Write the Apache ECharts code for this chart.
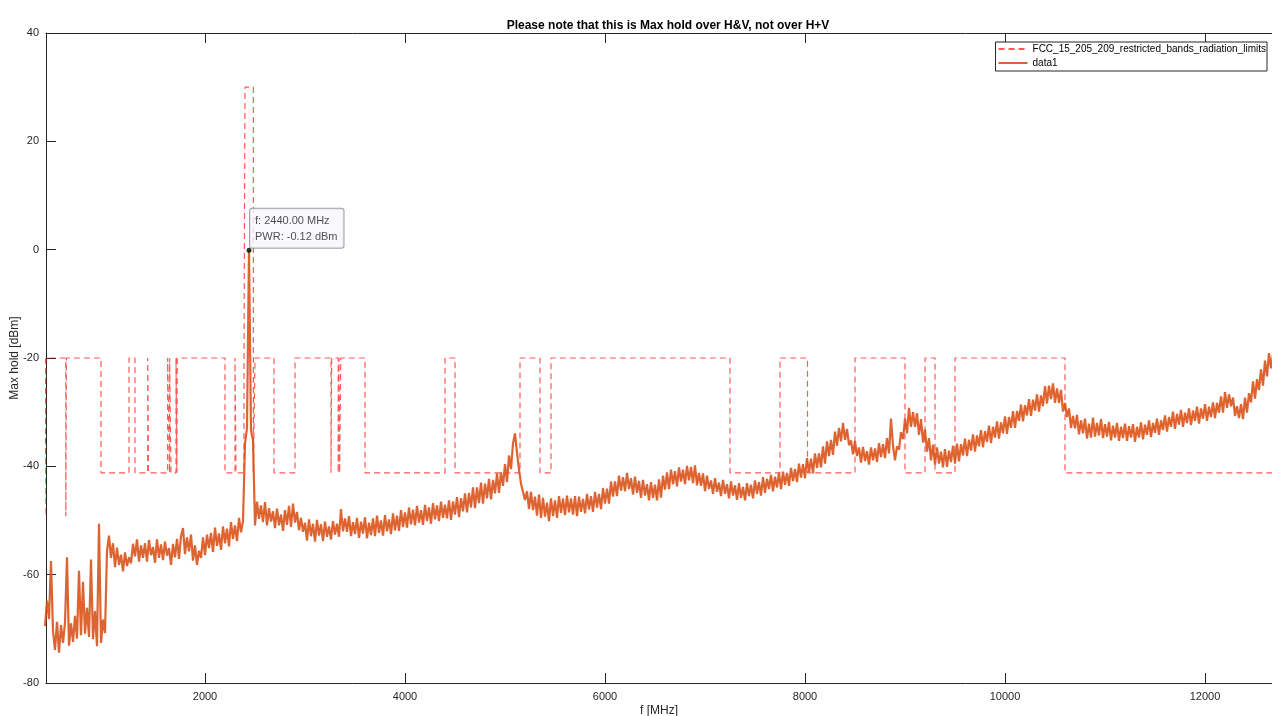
<!DOCTYPE html>
<html>
<head>
<meta charset="utf-8">
<script src="https://cdn.jsdelivr.net/npm/echarts@6/dist/echarts.min.js"></script>
<style>
  html, body { margin: 0; padding: 0; background: #ffffff; }
  #chart { width: 1272px; height: 716px; }
</style>
</head>
<body>
<div id="chart"></div>
<script>
// ---- axis ranges and tick labels ----
const freqMin = 410;
const freqMax = 12670;
const xTicks = [2000, 4000, 6000, 8000, 10000, 12000];
const yMin = -80, yMax = 40, yStep = 20;

// ---- measured max-hold trace (dBm), one sample every 20 MHz from 400 MHz ----
const traceStartMHz = 400;
const traceStepMHz = 20;
const tracePwr = [
  // 400 - 1380 MHz
  -69.5, -64.8, -68.2, -57.5, -70.4, -73.9, -68.7, -74.4, -69.3, -72.6,
  -68.9, -56.8, -73.1, -69.0, -72.4, -67.6, -71.8, -59.3, -71.2, -61.3,
  -70.9, -66.1, -71.5, -57.2, -71.9, -66.7, -73.2, -50.6, -72.6, -68.3,
  -70.8, -55.6, -52.8, -56.9, -54.2, -58.6, -55.0, -58.2, -56.3, -59.4,
  -55.9, -58.4, -56.8, -57.9, -54.3, -56.6, -53.5, -57.6, -54.6, -56.9,
  // 1400 - 2380 MHz
  -54.2, -57.6, -53.6, -56.4, -54.9, -57.8, -53.5, -56.9, -54.4, -57.3,
  -53.9, -56.5, -55.1, -58.2, -54.3, -56.8, -53.4, -57.1, -52.9, -51.4,
  -56.2, -53.1, -55.7, -52.6, -57.4, -54.6, -58.2, -55.6, -56.9, -53.1,
  -56.4, -52.6, -55.1, -52.3, -55.8, -51.3, -54.7, -52.4, -55.4, -51.1,
  -54.2, -51.5, -54.8, -50.3, -53.4, -50.9, -53.8, -49.5, -52.2, -50.1,
  // 2400 - 3380 MHz
  -35.8, -32.9, -0.12, -33.4, -35.2, -50.9, -46.5, -49.7, -47.2, -50.3,
  -46.6, -50.9, -47.7, -50.2, -48.3, -51.4, -47.8, -50.9, -48.9, -51.9,
  -48.1, -50.8, -47.3, -51.2, -46.9, -50.4, -48.4, -51.8, -49.5, -52.1,
  -50.4, -53.7, -49.8, -52.9, -50.6, -53.9, -49.9, -52.8, -50.7, -53.8,
  -50.2, -53.0, -51.1, -53.5, -50.1, -52.6, -50.6, -53.0, -47.9, -52.0,
  // 3400 - 4380 MHz
  -49.6, -52.1, -49.2, -52.9, -50.3, -52.5, -49.5, -53.2, -50.2, -52.4,
  -49.4, -53.3, -50.4, -52.7, -49.6, -52.9, -49.1, -52.3, -50.0, -52.8,
  -49.0, -52.0, -49.8, -52.5, -48.7, -51.8, -49.1, -51.9, -48.1, -51.2,
  -48.5, -51.3, -47.6, -50.7, -48.0, -50.9, -47.3, -50.4, -48.1, -50.8,
  -47.1, -50.1, -47.6, -50.6, -46.8, -49.8, -47.2, -50.1, -46.5, -49.5,
  // 4400 - 5380 MHz
  -47.1, -49.6, -46.3, -49.9, -46.5, -48.9, -45.7, -49.4, -45.9, -48.3,
  -45.0, -48.5, -44.9, -47.6, -43.9, -47.7, -43.9, -46.8, -43.0, -46.9,
  -43.2, -45.9, -42.3, -46.1, -42.5, -45.0, -41.3, -44.9, -41.1, -43.6,
  -39.6, -42.9, -38.0, -40.5, -35.8, -33.9, -37.5, -40.6, -43.2, -43.3,
  -46.2, -44.6, -47.9, -44.7, -48.1, -45.6, -49.1, -45.2, -49.5, -45.8,
  // 5400 - 6380 MHz
  -49.3, -46.7, -50.1, -45.9, -49.2, -46.3, -49.5, -45.5, -48.6, -45.9,
  -49.0, -45.4, -48.5, -45.9, -48.9, -45.5, -49.2, -45.6, -48.4, -46.0,
  -48.7, -45.1, -48.0, -45.5, -48.4, -44.7, -47.6, -45.1, -47.9, -44.0,
  -46.9, -44.1, -46.9, -42.8, -45.6, -42.8, -45.5, -41.7, -44.5, -42.0,
  -44.6, -41.2, -44.2, -42.2, -45.2, -41.9, -44.9, -42.7, -45.8, -42.5,
  // 6400 - 7380 MHz
  -45.4, -43.3, -46.3, -42.9, -45.8, -43.4, -46.3, -42.4, -45.8, -41.7,
  -44.3, -41.1, -44.2, -40.6, -43.3, -40.9, -43.7, -40.2, -42.8, -40.6,
  -43.3, -39.9, -42.6, -40.1, -43.1, -39.8, -43.5, -41.2, -43.6, -41.3,
  -44.6, -41.7, -44.2, -42.6, -45.1, -42.2, -44.7, -43.0, -45.5, -42.5,
  -45.1, -43.3, -45.9, -42.8, -45.4, -43.5, -46.2, -43.1, -45.8, -43.8,
  // 7400 - 8380 MHz
  -46.3, -43.1, -45.5, -43.4, -45.9, -42.6, -45.1, -42.9, -45.4, -42.0,
  -44.9, -42.3, -44.2, -41.6, -44.6, -41.9, -43.9, -41.2, -44.2, -41.0,
  -43.4, -41.2, -43.6, -40.3, -42.7, -40.5, -42.9, -39.5, -42.1, -39.6,
  -42.2, -38.5, -41.1, -38.6, -41.3, -37.6, -40.3, -37.6, -40.2, -36.3,
  -39.5, -35.4, -38.1, -35.1, -37.9, -33.6, -36.2, -32.9, -35.4, -32.0,
  // 8400 - 9380 MHz
  -35.1, -33.1, -36.1, -35.2, -37.8, -35.3, -38.1, -36.5, -39.3, -36.4,
  -39.0, -37.2, -39.7, -36.5, -38.9, -36.7, -39.2, -35.7, -38.3, -35.9,
  -38.5, -34.8, -37.6, -31.2, -36.2, -38.9, -36.3, -36.9, -33.7, -35.0,
  -31.2, -33.9, -29.2, -32.7, -30.0, -32.7, -30.2, -34.2, -31.3, -35.6,
  -33.2, -37.3, -34.8, -38.9, -36.0, -39.7, -36.5, -39.5, -37.3, -40.2,
  // 9400 - 10380 MHz
  -36.8, -40.1, -37.1, -39.2, -36.2, -39.5, -35.8, -39.1, -35.9, -38.0,
  -34.9, -38.1, -35.1, -37.1, -34.1, -37.3, -34.3, -36.3, -33.3, -36.5,
  -33.5, -35.5, -32.5, -35.7, -32.7, -34.7, -31.7, -34.9, -31.9, -33.9,
  -30.8, -34.0, -30.9, -32.9, -29.8, -32.9, -29.8, -31.6, -28.6, -31.7,
  -28.7, -30.6, -27.6, -30.7, -27.7, -29.7, -26.7, -29.9, -26.9, -28.9,
  // 10400 - 11380 MHz
  -25.2, -28.4, -25.1, -27.6, -24.7, -28.3, -25.6, -28.3, -25.9, -29.9,
  -28.3, -30.9, -29.3, -32.9, -30.7, -33.0, -30.5, -34.1, -31.5, -33.9,
  -31.2, -34.9, -32.1, -34.7, -31.0, -34.5, -32.0, -34.3, -31.3, -34.8,
  -32.2, -34.5, -31.8, -35.2, -32.5, -34.7, -32.0, -35.3, -32.7, -34.8,
  -32.1, -35.3, -32.6, -34.7, -32.2, -35.5, -32.7, -34.7, -31.9, -35.0,
  // 11400 - 12380 MHz
  -32.3, -34.2, -31.5, -34.6, -32.0, -33.8, -31.2, -34.2, -31.5, -33.3,
  -30.6, -33.6, -30.9, -32.7, -29.9, -33.1, -30.3, -32.3, -29.6, -32.7,
  -30.1, -32.0, -29.3, -32.4, -29.7, -31.6, -29.0, -32.1, -29.3, -31.2,
  -28.5, -31.6, -29.0, -30.9, -28.2, -31.1, -28.3, -30.1, -27.1, -30.1,
  -26.3, -29.2, -26.7, -28.9, -27.3, -30.7, -28.9, -31.1, -28.5, -31.3,
  // 12400 - 12680 MHz
  -27.3, -30.1, -26.5, -28.2, -24.3, -27.5, -23.9, -25.9, -22.1, -25.1,
  -20.5, -23.4, -19.1, -21.9, -19.3
];

// ---- data tip ----
const tipFreq = 2440;
const tipPwr = -0.12;

// ---- FCC 15.205 / 15.209 limit mask ----
const defaultLimit = -20;                      // outside restricted bands
const restrictedBands = [                      // MHz
  [399.9, 410], [608, 614], [960, 1240], [1300, 1427], [1435, 1626.5],
  [1645.5, 1646.5], [1660, 1710], [1718.8, 1722.2], [2200, 2300],
  [2310, 2390], [2483.5, 2500], [2690, 2900], [3260, 3267], [3332, 3339],
  [3345.8, 3358], [3600, 4400], [4500, 5150], [5350, 5460], [7250, 7750],
  [8025, 8500], [9000, 9200], [9300, 9500], [10600, 12700]
];
const restrictedLevels = [                     // dBm EIRP
  -49.2, -49.2, -41.2, -41.2, -41.2, -41.2, -41.2, -41.2, -41.2, -41.2,
  -41.2, -41.2, -41.2, -41.2, -41.2, -41.2, -41.2, -41.2, -41.2, -41.2,
  -41.2, -41.2, -41.2
];
const ismBand = [2400, 2483.5];
const ismLevel = 30;

// build the stepped mask polyline
const maskSegments = restrictedBands.map((b, i) => ({ a: b[0], b: b[1], lvl: restrictedLevels[i] }));
maskSegments.push({ a: ismBand[0], b: ismBand[1], lvl: ismLevel });
maskSegments.sort((p, q) => p.a - q.a);
const maskPoints = [];
maskSegments.forEach(s => {
  maskPoints.push([s.a, defaultLimit], [s.a, s.lvl], [s.b, s.lvl], [s.b, defaultLimit]);
});

const tracePoints = tracePwr.map((v, i) => [traceStartMHz + i * traceStepMHz, v]);

const axisColor = '#262626';
const fontFamily = '"Liberation Sans", Arial, Helvetica, sans-serif';

const chart = echarts.init(document.getElementById('chart'), null, { renderer: 'canvas' });
chart.setOption({
  animation: false,
  backgroundColor: '#ffffff',
  textStyle: { fontFamily: fontFamily },
  title: {
    text: 'Please note that this is Max hold over H&V, not over H+V',
    left: 663,
    top: 15,
    textAlign: 'center',
    textStyle: { fontSize: 12, fontWeight: 'bold', color: '#000000', fontFamily: fontFamily }
  },
  grid: { left: 46, right: 0, top: 33, bottom: 33, containLabel: false, outerBoundsMode: 'none' },
  legend: {
    orient: 'vertical',
    right: 5,
    top: 42,
    itemWidth: 29,
    itemHeight: 10,
    itemGap: 4,
    padding: [2, 1, 3, 2],
    borderColor: axisColor,
    borderWidth: 1,
    backgroundColor: '#ffffff',
    itemStyle: { opacity: 0 },
    textStyle: { fontSize: 10, color: '#000000', fontFamily: fontFamily },
    data: ['FCC_15_205_209_restricted_bands_radiation_limits', 'data1']
  },
  xAxis: [{
    type: 'value',
    min: freqMin,
    max: freqMax,
    name: 'f [MHz]',
    nameLocation: 'middle',
    nameGap: 22,
    nameMoveOverlap: false,
    nameTextStyle: { fontSize: 12, color: axisColor, fontFamily: fontFamily },
    axisLine: { show: true, onZero: false, lineStyle: { color: axisColor, width: 1 } },
    axisTick: { show: true, inside: true, length: 10, customValues: xTicks, lineStyle: { color: axisColor } },
    axisLabel: { show: true, customValues: xTicks, formatter: v => String(v), fontSize: 11, color: axisColor, margin: 8, fontFamily: fontFamily },
    splitLine: { show: false }
  }, {
    type: 'value',
    position: 'top',
    min: freqMin,
    max: freqMax,
    axisLine: { show: true, onZero: false, lineStyle: { color: axisColor, width: 1 } },
    axisTick: { show: true, inside: true, length: 10, customValues: xTicks, lineStyle: { color: axisColor } },
    axisLabel: { show: false },
    splitLine: { show: false }
  }],
  yAxis: {
    type: 'value',
    min: yMin,
    max: yMax,
    interval: yStep,
    name: 'Max hold [dBm]',
    nameLocation: 'middle',
    nameGap: 25,
    nameMoveOverlap: false,
    nameTextStyle: { fontSize: 12, color: axisColor, fontFamily: fontFamily },
    axisLine: { show: true, onZero: false, lineStyle: { color: axisColor, width: 1 } },
    axisTick: { show: true, inside: true, length: 10, lineStyle: { color: axisColor } },
    axisLabel: { fontSize: 11, color: axisColor, margin: 7, formatter: v => String(v), fontFamily: fontFamily },
    splitLine: { show: false }
  },
  series: [{
    name: 'FCC_15_205_209_restricted_bands_radiation_limits',
    type: 'line',
    data: maskPoints,
    showSymbol: false,
    symbol: 'none',
    lineStyle: { color: '#ff2020', width: 1.2, type: [6, 4], opacity: 0.75 },
    itemStyle: { color: '#ff2020' },
    z: 2
  }, {
    name: 'data1',
    type: 'line',
    data: tracePoints,
    showSymbol: false,
    symbol: 'none',
    lineStyle: { color: '#D95319', width: 2.2, opacity: 0.9 },
    itemStyle: { color: '#D95319' },
    z: 3
  }, {
    name: 'tip',
    type: 'scatter',
    data: [[tipFreq, tipPwr]],
    symbolSize: 5,
    itemStyle: { color: '#000000' },
    z: 5,
    label: {
      show: true,
      position: [3.5, 0],
      align: 'left',
      verticalAlign: 'bottom',
      formatter: () => 'f: ' + tipFreq.toFixed(2) + ' MHz\nPWR: ' + tipPwr.toFixed(2) + ' dBm',
      fontSize: 11,
      lineHeight: 16,
      color: '#262626',
      fontFamily: fontFamily,
      backgroundColor: '#f8f8fc',
      borderColor: '#8c8c8c',
      borderWidth: 1,
      borderRadius: 2,
      padding: [4, 6, 3, 5]
    }
  }]
});
</script>
</body>
</html>
